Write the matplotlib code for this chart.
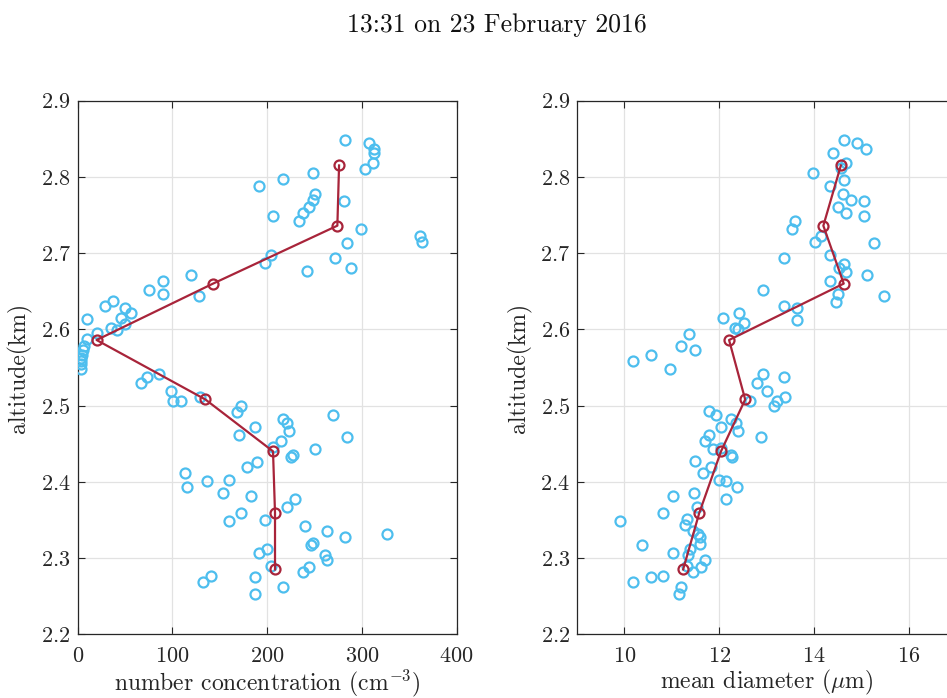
import matplotlib
matplotlib.use("Agg")
import matplotlib.pyplot as plt

plt.rcParams['font.family'] = ['cmr10', 'DejaVu Serif']
plt.rcParams['mathtext.fontset'] = 'cm'
plt.rcParams['axes.formatter.use_mathtext'] = True

# ---- data ----
alt_conc = [2.849, 2.844, 2.836, 2.831, 2.818, 2.810, 2.805, 2.797, 2.788, 2.778,
            2.770, 2.768, 2.760, 2.752, 2.749, 2.742, 2.731, 2.723, 2.715, 2.713,
            2.697, 2.694, 2.687, 2.681, 2.676, 2.671, 2.663, 2.652, 2.647, 2.644,
            2.637, 2.631, 2.628, 2.621, 2.615, 2.613, 2.607, 2.602, 2.599, 2.595,
            2.587, 2.578, 2.573, 2.567, 2.562, 2.558, 2.554, 2.548, 2.542, 2.537,
            2.529, 2.519, 2.506, 2.506, 2.511, 2.500, 2.492, 2.487, 2.482, 2.477,
            2.472, 2.466, 2.461, 2.459, 2.454, 2.446, 2.443, 2.435, 2.432, 2.426,
            2.419, 2.411, 2.403, 2.401, 2.393, 2.385, 2.382, 2.377, 2.367, 2.359,
            2.350, 2.348, 2.342, 2.335, 2.332, 2.327, 2.320, 2.317, 2.312, 2.306,
            2.304, 2.298, 2.290, 2.288, 2.282, 2.277, 2.275, 2.269, 2.262, 2.253]
conc = [282.5, 307.5, 312.5, 312.5, 312, 303.7, 248.4, 216.7, 191, 250.5,
        248.4, 280.8, 244.5, 238.2, 206.2, 234, 299.4, 361, 363, 284.7,
        204.4, 271.6, 198, 288.5, 242, 119.6, 90, 75.3, 90, 128,
        37.3, 28.5, 50, 56.3, 46, 9.5, 50, 35.2, 41.9, 20,
        9.5, 7, 6, 5, 4, 3.5, 4, 3.5, 86.2, 72.8,
        66.9, 98.2, 100.3, 109, 129, 172.8, 168.2, 269.5, 216.7, 221.3,
        187.2, 223.4, 170.3, 284.7, 215, 206.2, 250.5, 227.7, 225.5, 189.3,
        178.7, 113.3, 159.8, 136.5, 115.8, 153.4, 183.3, 229.4, 221, 172.8,
        197.7, 159.8, 240, 263.5, 326.5, 282.5, 248.8, 246.3, 200, 191.4,
        261.4, 263.5, 203.7, 244.5, 237.9, 140.7, 187.2, 132.3, 216.7, 187.2]

alt_diam = [2.849, 2.844, 2.836, 2.831, 2.818, 2.811, 2.805, 2.796, 2.788, 2.778,
            2.770, 2.768, 2.760, 2.752, 2.749, 2.742, 2.731, 2.723, 2.715, 2.713,
            2.697, 2.694, 2.686, 2.681, 2.675, 2.671, 2.663, 2.652, 2.647, 2.644,
            2.636, 2.631, 2.628, 2.621, 2.615, 2.612, 2.608, 2.602, 2.600, 2.594,
            2.578, 2.573, 2.566, 2.558, 2.548, 2.542, 2.537, 2.529, 2.519, 2.511,
            2.506, 2.500, 2.506, 2.493, 2.487, 2.482, 2.477, 2.472, 2.466, 2.461,
            2.459, 2.453, 2.445, 2.443, 2.435, 2.432, 2.427, 2.419, 2.411, 2.403,
            2.401, 2.393, 2.385, 2.382, 2.377, 2.367, 2.359, 2.351, 2.348, 2.343,
            2.335, 2.332, 2.327, 2.319, 2.317, 2.312, 2.306, 2.304, 2.298, 2.290,
            2.288, 2.282, 2.277, 2.275, 2.269, 2.262, 2.253]
diam = [14.63, 14.92, 15.09, 14.41, 14.67, 14.57, 13.98, 14.63, 14.33, 14.62,
        14.79, 15.05, 14.50, 14.67, 15.05, 13.61, 13.53, 14.15, 14.03, 15.26,
        14.33, 13.36, 14.63, 14.54, 14.67, 15.13, 14.33, 12.93, 14.50, 15.47,
        14.46, 13.36, 13.65, 12.42, 12.09, 13.65, 12.52, 12.34, 12.40, 11.37,
        11.20, 11.50, 10.57, 10.19, 10.96, 12.93, 13.36, 12.80, 13.01, 13.40,
        13.23, 13.15, 12.65, 11.79, 11.93, 12.26, 12.35, 12.04, 12.39, 11.79,
        12.89, 11.71, 12.03, 11.88, 12.26, 12.27, 11.50, 11.83, 11.67, 12.00,
        12.14, 12.38, 11.46, 11.03, 12.14, 11.54, 10.82, 11.33, 9.90, 11.29,
        11.45, 11.56, 11.59, 11.59, 10.37, 11.38, 11.03, 11.34, 11.71, 11.33,
        11.62, 11.45, 10.82, 10.57, 10.19, 11.20, 11.16]

alt_mean = [2.815, 2.736, 2.660, 2.586, 2.508, 2.440, 2.359, 2.285]
conc_mean = [275.9, 274.1, 142.9, 20.0, 134.8, 206.2, 208.3, 208.3]
diam_mean = [14.57, 14.20, 14.63, 12.21, 12.55, 12.04, 11.58, 11.24]

title_text = "13:31 on 23 February 2016"
ylabel_text = "altitude(km)"
xlabel_left = r"number concentration (cm$^{-3}$)"
xlabel_right = r"mean diameter ($\mu$m)"

# ---- style ----
BLUE = '#4DBEEE'
RED = '#A8243A'
AXC = '#262626'

fig = plt.figure(figsize=(9.47, 6.98), dpi=100)
ax1 = fig.add_axes([0.0820, 0.0913, 0.4002, 0.7645])
ax2 = fig.add_axes([0.6093, 0.0913, 0.4002, 0.7645])


def style(ax):
    ax.set_ylim(2.2, 2.9)
    ax.set_yticks([2.2, 2.3, 2.4, 2.5, 2.6, 2.7, 2.8, 2.9])
    ax.grid(True, color='#e2e2e2', linewidth=0.9)
    ax.set_axisbelow(True)
    ax.tick_params(direction='in', top=True, right=True, length=5, width=0.8,
                   colors=AXC, labelsize=16, pad=5)
    ax.tick_params(axis='x', pad=9)
    for s in ax.spines.values():
        s.set_color(AXC)
        s.set_linewidth(0.9)
    ax.set_ylabel(ylabel_text, fontsize=17, color=AXC, labelpad=6)


ax1.plot(conc, alt_conc, 'o', ms=7.2, mfc='none', mec=BLUE, mew=1.6, zorder=3)
ax1.plot(conc_mean, alt_mean, '-o', color=RED, lw=1.6, ms=7.2, mfc='none',
         mec=RED, mew=1.6, zorder=4)
ax1.set_xlim(0, 400)
ax1.set_xticks([0, 100, 200, 300, 400])
style(ax1)
ax1.set_xlabel(xlabel_left, fontsize=17, color=AXC, labelpad=1)

ax2.plot(diam, alt_diam, 'o', ms=7.2, mfc='none', mec=BLUE, mew=1.6, zorder=3)
ax2.plot(diam_mean, alt_mean, '-o', color=RED, lw=1.6, ms=7.2, mfc='none',
         mec=RED, mew=1.6, zorder=4)
ax2.set_xlim(9, 17)
ax2.set_xticks([10, 12, 14, 16])
style(ax2)
ax2.set_xlabel(xlabel_right, fontsize=17, color=AXC, labelpad=1)

fig.text(0.525, 0.964, title_text, ha='center', va='center', fontsize=18.5,
         color='#111111')

fig.savefig('out.png', dpi=100)
